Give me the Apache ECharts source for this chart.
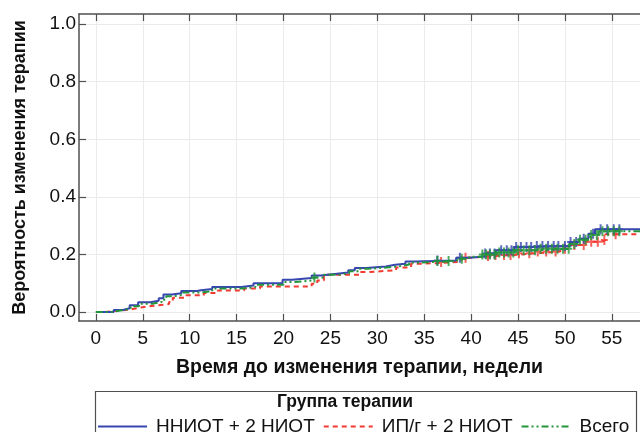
<!DOCTYPE html>
<html>
<head>
<meta charset="utf-8">
<script src="https://cdn.jsdelivr.net/npm/echarts@6/dist/echarts.min.js"></script>
<style>
html,body{margin:0;padding:0;background:#fff;}
#main{width:640px;height:432px;}
</style>
</head>
<body>
<div id="main"></div>
<script>
// кумулятивная вероятность изменения терапии (ступенчатые кривые)
var xTicks = [0, 5, 10, 15, 20, 25, 30, 35, 40, 45, 50, 55];
var yTicks = [0, 0.2, 0.4, 0.6, 0.8, 1.0];

var seriesNames = ['ННИОТ + 2 НИОТ', 'ИП/г + 2 НИОТ', 'Всего'];

var nnrtiCurve = [[0,0],[1.9,0.007],[2.9,0.013],[3.6,0.024],[4.5,0.034],[5.8,0.039],[6.7,0.048],[7.2,0.061],[8.1,0.065],[9.1,0.073],[10.8,0.076],[11.2,0.08],[12.4,0.087],[15.5,0.092],[16.8,0.1],[19.9,0.112],[20.9,0.118],[23,0.127],[24,0.133],[25.7,0.137],[26.9,0.145],[27.6,0.153],[28.8,0.158],[30.9,0.164],[31.9,0.168],[33,0.176],[34,0.179],[38.4,0.189],[39.8,0.193],[41.5,0.203],[42.6,0.215],[44.6,0.226],[46.7,0.229],[50.5,0.243],[51.5,0.255],[52.5,0.272],[53.2,0.288],[58,0.288]];
var piCurve = [[0,0],[0.8,0.005],[2.5,0.01],[3.8,0.016],[4.8,0.022],[6.2,0.028],[7.8,0.035],[8.2,0.05],[9.5,0.058],[11.5,0.066],[13,0.075],[15.8,0.082],[17.5,0.089],[23,0.098],[23.6,0.11],[24.3,0.13],[28.1,0.139],[29,0.145],[32,0.155],[33.6,0.168],[35,0.174],[38.7,0.179],[39,0.189],[40,0.195],[42.6,0.198],[44.6,0.204],[46.7,0.21],[49.5,0.22],[50.5,0.233],[52.2,0.244],[53.9,0.25],[54.3,0.27],[58,0.27]];
var totalCurve = [[0,0],[1.5,0.006],[2.8,0.012],[3.7,0.02],[4.6,0.029],[6,0.035],[7,0.043],[7.5,0.055],[8.2,0.06],[9.3,0.068],[11,0.072],[12.4,0.082],[15.6,0.087],[17,0.095],[20,0.104],[21,0.11],[23.2,0.12],[24.2,0.13],[26,0.135],[27,0.142],[28,0.15],[29,0.155],[31,0.16],[32.5,0.165],[33.4,0.172],[34.5,0.177],[38.5,0.185],[39.8,0.192],[41.2,0.2],[42.6,0.207],[44.6,0.215],[47,0.22],[50.5,0.236],[51.5,0.251],[52.7,0.268],[53.6,0.281],[58,0.281]];

// цензурированные наблюдения (недели)
var nnrtiCensor = [36.4, 38.8, 41.5, 42, 42.5, 43.2, 43.8, 44.3, 44.8, 45.3, 45.9, 46.4, 47, 47.6, 48.2, 48.8, 49.3, 50, 50.6, 51.2, 52, 53, 53.8, 54.5, 55.2, 55.8];
var piCensor = [36.8, 39.4, 41.8, 42.6, 43.5, 44.2, 45.1, 46.2, 47.1, 48, 49, 50, 51, 52, 52.8, 53.5, 54.2, 55.4];
var totalCensor = [23.3, 36.4, 37.6, 39, 41.2, 41.6, 42, 42.5, 43, 43.5, 44, 44.5, 45, 45.6, 46.2, 46.8, 47.4, 48, 48.6, 49.2, 49.8, 50.4, 51, 51.6, 52.2, 52.8, 53.4, 54, 54.6, 55.2, 55.8];

var colors = ['#3846b0', '#f23a32', '#23953b'];

function stepAt(curve, t) {
    var v = 0;
    for (var i = 0; i < curve.length; i++) {
        if (curve[i][0] <= t) v = curve[i][1];
    }
    return v;
}
function censorPoints(curve, times) {
    return times.map(function (t) { return [t, stepAt(curve, t)]; });
}

var plus = 'path://M2.5,0H4.5V4H7V6H4.5V10H2.5V6H0V4H2.5Z';
var font = 'Liberation Sans, Arial, sans-serif';

var chart = echarts.init(document.getElementById('main'));

var frame = {color: '#505050', width: 1.5};
var tickStyle = {color: '#505050', width: 1.2};

option = {
    animation: false,
    color: colors,
    grid: {left: 79, top: 14, width: 581, height: 307, containLabel: false},
    xAxis: [
        {
            type: 'value', min: -1.8, max: 58, position: 'bottom',
            name: 'Время до изменения терапии, недели',
            nameLocation: 'middle', nameGap: 37,
            nameTextStyle: {fontFamily: font, fontSize: 19.5, fontWeight: 'bold', color: '#111'},
            axisLine: {onZero: false, lineStyle: frame},
            axisTick: {inside: true, length: 7, customValues: xTicks, lineStyle: tickStyle},
            axisLabel: {customValues: xTicks, margin: 8, fontFamily: font, fontSize: 19, color: '#111'},
            splitLine: {show: true, lineStyle: {color: '#ebebeb', width: 1}}
        },
        {
            type: 'value', min: -1.8, max: 58, position: 'top',
            axisLine: {onZero: false, lineStyle: frame},
            axisTick: {inside: true, length: 7, customValues: xTicks, lineStyle: tickStyle},
            axisLabel: {show: false},
            splitLine: {show: false}
        }
    ],
    yAxis: {
        type: 'value', min: -0.031, max: 1.035,
        name: 'Вероятность изменения терапии',
        nameLocation: 'middle', nameGap: 50,
        nameTextStyle: {fontFamily: font, fontSize: 18, fontWeight: 'bold', color: '#111'},
        axisLine: {show: true, onZero: false, lineStyle: frame},
        axisTick: {inside: true, length: 7, customValues: yTicks, lineStyle: tickStyle},
        axisLabel: {customValues: yTicks, margin: 3, fontFamily: font, fontSize: 19, color: '#111',
            formatter: function (v) { return v.toFixed(1); }},
        splitLine: {show: true, lineStyle: {color: '#ebebeb', width: 1}}
    },
    legend: {
        data: seriesNames,
        left: 92, top: 412,
        itemWidth: 49, itemHeight: 10, itemGap: 8,
        itemStyle: {opacity: 0},
        textStyle: {fontFamily: font, fontSize: 19, color: '#111', padding: [0, 0, 0, 4]}
    },
    graphic: [
        {type: 'rect', left: 93, top: 389, shape: {width: 541, height: 60},
            style: {fill: 'none', stroke: '#505050', lineWidth: 1.2}},
        {type: 'text', left: 277, top: 393, style: {text: 'Группа терапии', font: 'bold 17.5px ' + font, fill: '#111'}}
    ],
    series: [
        {name: seriesNames[0], type: 'line', step: 'end', symbol: 'none', data: nnrtiCurve, z: 3,
            lineStyle: {color: colors[0], width: 2, type: 'solid'}},
        {name: seriesNames[1], type: 'line', step: 'end', symbol: 'none', data: piCurve, z: 2,
            lineStyle: {color: colors[1], width: 2, type: [5, 4]}},
        {name: seriesNames[2], type: 'line', step: 'end', symbol: 'none', data: totalCurve, z: 4,
            lineStyle: {color: colors[2], width: 2, type: [7, 3, 2, 3, 2, 3]}},
        {type: 'scatter', data: censorPoints(nnrtiCurve, nnrtiCensor), symbol: plus, symbolSize: [7, 10],
            itemStyle: {color: colors[0]}, z: 3, silent: true},
        {type: 'scatter', data: censorPoints(piCurve, piCensor), symbol: plus, symbolSize: [7, 10],
            itemStyle: {color: colors[1]}, z: 2, silent: true},
        {type: 'scatter', data: censorPoints(totalCurve, totalCensor), symbol: plus, symbolSize: [7, 10],
            itemStyle: {color: colors[2]}, z: 4, silent: true}
    ]
};

chart.setOption(option);
</script>
</body>
</html>
